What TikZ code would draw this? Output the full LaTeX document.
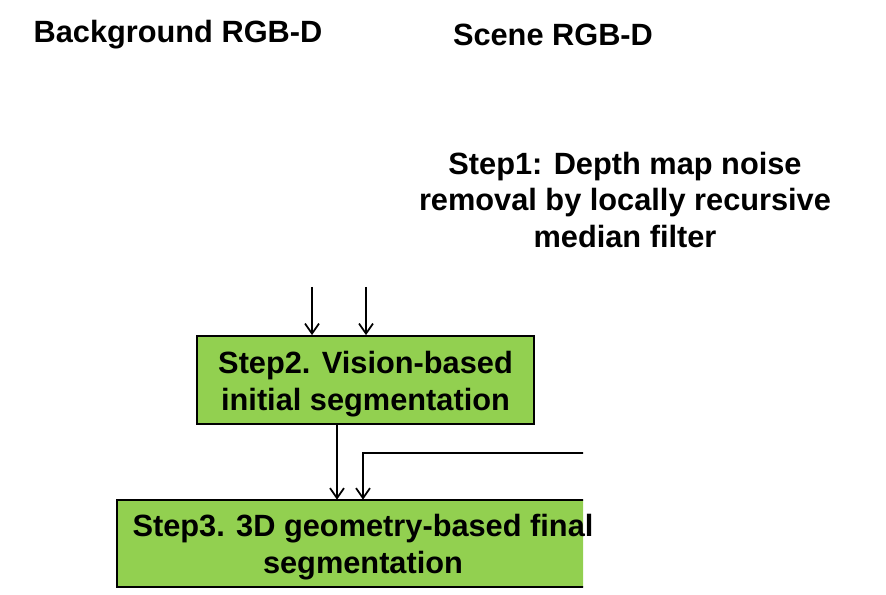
\documentclass[tikz,border=0pt]{standalone}
\usepackage{fontspec}
\setmainfont{Liberation Sans}
\usepackage{tikz}
\usetikzlibrary{arrows}
\usetikzlibrary{arrows.meta}
\usetikzlibrary{backgrounds}
\usetikzlibrary{positioning}
\definecolor{stepgreen}{RGB}{146,208,80}
\newcommand{\stepstrut}{\rule{0pt}{17.3pt}}

\tikzset{
  steptext/.style={font=\bfseries\fontsize{17.5}{21}\selectfont, align=center},
  stepbox/.style={steptext, draw=black, line width=1pt, fill=stepgreen, inner sep=0pt},
  boxfill/.style={draw=black, line width=1pt, fill=stepgreen},
  flow/.style={line width=1pt, -{Straight Barb[length=2mm,width=2.8mm]}}
}

\begin{document}
\begin{tikzpicture}
    \path[use as bounding box] (0, 0) rectangle (17.72, 11.9);

    \node[steptext] (bg) at (3.56, 11.2) {Background RGB-D};
    \node[steptext] (scene) at (11.06, 11.2) {Scene RGB-D};
    \node[steptext] (step1) at (12.5, 7.9) {Step1: Depth map noise\\removal by locally recursive\\median filter};

    \node[stepbox, minimum width=6.74cm, minimum height=1.76cm] (step2) at (7.31, 4.30)
      {\stepstrut Step2. Vision-based\\initial segmentation};

    \coordinate (in1) at (6.24, 6.16);
    \coordinate (in2) at (7.32, 6.16);
    \draw[flow] (in1) -- (in1 |- step2.north);
    \draw[flow] (in2) -- (in2 |- step2.north);

    \node[steptext, inner sep=0pt, minimum width=9.84cm, minimum height=1.74cm] (step3) at (7.26, 1.03)
      {\stepstrut Step3. 3D geometry-based final\\segmentation};

    % right side of the box is cut off
    \begin{scope}[on background layer]
      \clip (0, 0) rectangle (11.66, 3.3);
      \draw[boxfill] (step3.south west) rectangle (step3.north east);
      \coordinate (fb) at (12.2, 2.84);
      \draw[flow] (fb) -- (7.26, 2.84) -- (7.26, 2.84 |- step3.north);
    \end{scope}

    \draw[flow] (6.74, 0 |- step2.south) -- (6.74, 0 |- step3.north);
\end{tikzpicture}
\end{document}
